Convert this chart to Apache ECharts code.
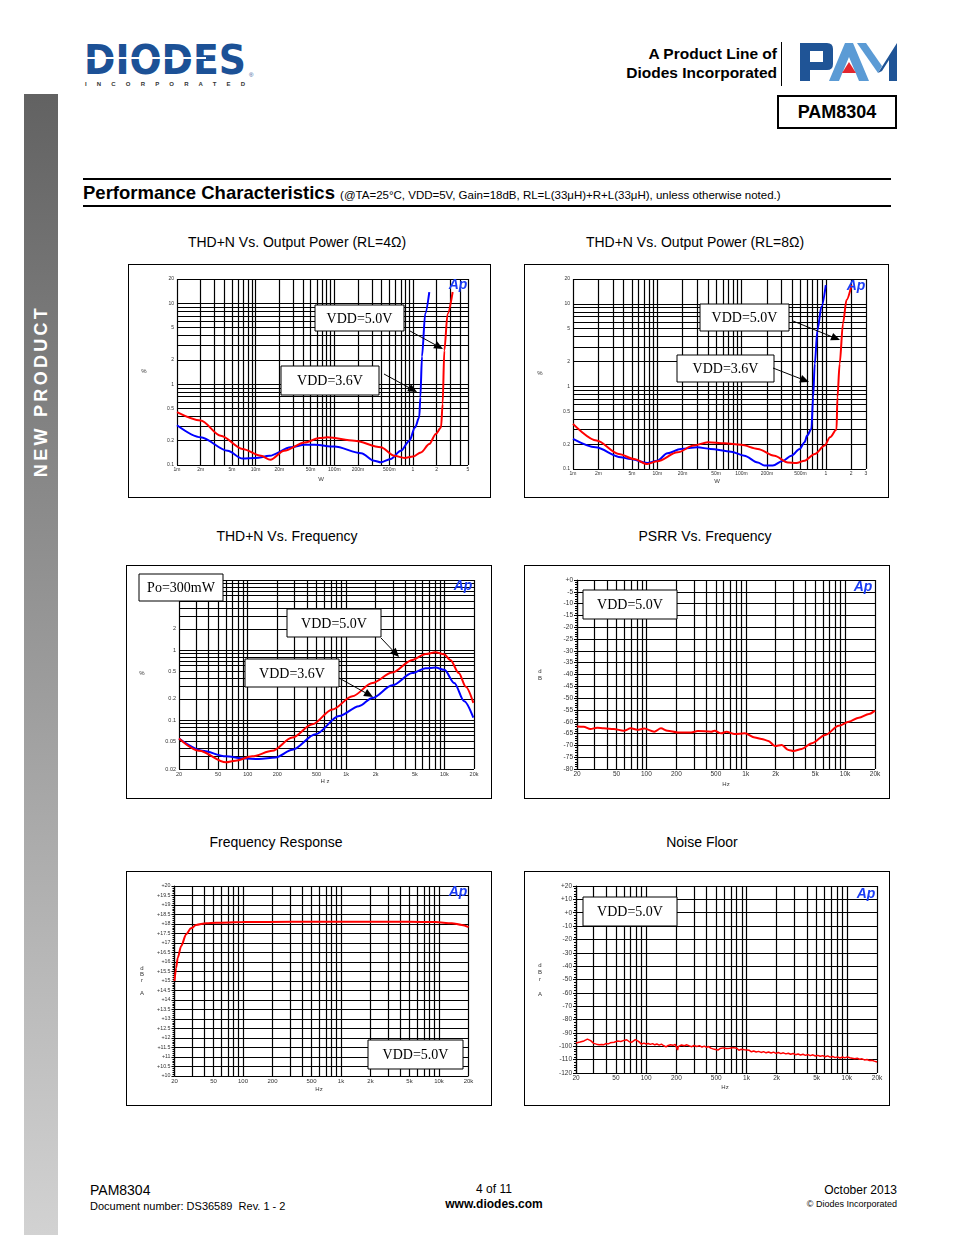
<!DOCTYPE html>
<html><head><meta charset="utf-8">
<script src="https://cdn.jsdelivr.net/npm/echarts@6.0.0/dist/echarts.min.js"></script>
<style>
body{margin:0;background:#fff;}
#page{position:relative;width:954px;height:1235px;overflow:hidden;font-family:"Liberation Sans",Arial,sans-serif;color:#000;background:#fff}
.abs{position:absolute;white-space:nowrap}
.frame{position:absolute;border:1px solid #000;box-sizing:border-box}
.chart{position:absolute}
.ctitle{position:absolute;font-size:14px;white-space:nowrap;transform:translateX(-50%);line-height:16px}
</style></head><body><div id="page">

<div class="abs" style="left:24px;top:94px;width:34px;height:1141px;background:linear-gradient(#626262,#d2d2d2)"></div>
<div class="abs" style="left:41px;top:391px;transform:translate(-50%,-50%) rotate(-90deg);color:#fff;font-weight:bold;font-size:18px;letter-spacing:3.3px">NEW PRODUCT</div>

<svg class="abs" style="left:80px;top:40px" width="180" height="50">
  <text x="4" y="33.5" font-family="DejaVu Sans" font-weight="bold" font-size="41" fill="#1c5196" textLength="162" lengthAdjust="spacingAndGlyphs">DIODES</text>
  <rect x="4" y="17" width="122" height="2" fill="#fff"/>
  <text x="169" y="37" font-family="Liberation Sans" font-size="6" fill="#1c5196">®</text>
  <text x="5" y="45.5" font-family="Liberation Sans" font-weight="bold" font-size="6" fill="#333" textLength="160" lengthAdjust="spacing">INCORPORATED</text>
</svg>

<div class="abs" style="right:177px;top:44px;font-weight:bold;font-size:15.5px;text-align:right;line-height:19px">A Product Line of<br>Diodes Incorporated</div>
<div class="abs" style="left:781px;top:42px;width:1px;height:44px;background:#000"></div>
<svg class="abs" style="left:795px;top:40px" width="106" height="46">
  <path fill="#1f5496" fill-rule="evenodd" d="M5,41 V3 H32 Q38,3 38,9 V24 Q38,30 32,30 H15 V41 Z M15,11 H28 V22 H15 Z"/>
  <polygon fill="#5b9bd5" points="34,41 50,3 58,3 74,41 64,41 54,17 44,41"/>
  <polygon fill="#e3262d" points="47,33 54,22 61,33"/>
  <polygon fill="#5b9bd5" points="62,3 71,3 87,26 83,33"/>
  <polygon fill="#1f5496" points="83,33 102,3 102,41 94,41 94,20 87,31"/>
</svg>
<div class="abs" style="left:777px;top:95px;width:120px;height:34px;border:2px solid #000;box-sizing:border-box;font-weight:bold;font-size:18px;line-height:30px;text-align:center">PAM8304</div>

<div class="abs" style="left:83px;top:178px;width:808px;height:2px;background:#000"></div>
<div class="abs" style="left:83px;top:182px;font-size:18.5px;font-weight:bold;line-height:22px">Performance Characteristics <span style="font-weight:normal;font-size:11.5px">(@TA=25°C, VDD=5V, Gain=18dB, RL=L(33μH)+R+L(33μH), unless otherwise noted.)</span></div>
<div class="abs" style="left:83px;top:205px;width:808px;height:2px;background:#000"></div>

<div class="ctitle" style="left:297px;top:234px">THD+N Vs. Output Power (RL=4Ω)</div>
<div class="ctitle" style="left:695px;top:234px">THD+N Vs. Output Power (RL=8Ω)</div>
<div class="ctitle" style="left:287px;top:528px">THD+N Vs. Frequency</div>
<div class="ctitle" style="left:705px;top:528px">PSRR Vs. Frequency</div>
<div class="ctitle" style="left:276px;top:834px">Frequency Response</div>
<div class="ctitle" style="left:702px;top:834px">Noise Floor</div>

<div class="frame" style="left:128px;top:264px;width:363px;height:234px"></div>
<div class="frame" style="left:524px;top:264px;width:365px;height:234px"></div>
<div class="frame" style="left:126px;top:565px;width:366px;height:234px"></div>
<div class="frame" style="left:524px;top:565px;width:366px;height:234px"></div>
<div class="frame" style="left:126px;top:871px;width:366px;height:235px"></div>
<div class="frame" style="left:524px;top:871px;width:366px;height:235px"></div>

<div id="c1" class="chart" style="left:128px;top:264px;width:363px;height:234px"></div>
<div id="c2" class="chart" style="left:524px;top:264px;width:365px;height:234px"></div>
<div id="c3" class="chart" style="left:126px;top:565px;width:366px;height:234px"></div>
<div id="c4" class="chart" style="left:524px;top:565px;width:366px;height:234px"></div>
<div id="c5" class="chart" style="left:126px;top:871px;width:366px;height:235px"></div>
<div id="c6" class="chart" style="left:524px;top:871px;width:366px;height:235px"></div>

<div class="abs" style="left:90px;top:1182px;font-size:14px">PAM8304</div>
<div class="abs" style="left:90px;top:1200px;font-size:11px">Document number: DS36589&nbsp; Rev. 1 - 2</div>
<div class="abs" style="left:494px;top:1182px;font-size:12px;transform:translateX(-50%)">4 of 11</div>
<div class="abs" style="left:494px;top:1197px;font-size:12px;font-weight:bold;transform:translateX(-50%)">www.diodes.com</div>
<div class="abs" style="right:57px;top:1183px;font-size:12px">October 2013</div>
<div class="abs" style="right:57px;top:1199px;font-size:9px">© Diodes Incorporated</div>

</div>
<script>
// ---------------- data ----------------
const powerTicks4 = [0.001,0.002,0.005,0.01,0.02,0.05,0.1,0.2,0.5,1,2,5];
const powerLabels4 = ['1m','2m','5m','10m','20m','50m','100m','200m','500m','1','2','5'];
const powerTicks8 = [0.001,0.002,0.005,0.01,0.02,0.05,0.1,0.2,0.5,1,2,3];
const powerLabels8 = ['1m','2m','5m','10m','20m','50m','100m','200m','500m','1','2','3'];
const thdTicks = [0.1,0.2,0.5,1,2,5,10,20];
const thdLabels = ['0.1','0.2','0.5','1','2','5','10','20'];
const freqTicks = [20,50,100,200,500,1000,2000,5000,10000,20000];
const freqLabels = ['20','50','100','200','500','1k','2k','5k','10k','20k'];
const thdFreqTicks = [0.02,0.05,0.1,0.2,0.5,1,2];
const thdFreqLabels = ['0.02','0.05','0.1','0.2','0.5','1','2'];

const thd4_vdd36 = [[0.001,0.31],[0.002,0.22],[0.0044,0.15],[0.0068,0.12],[0.01,0.122],[0.015,0.13],[0.028,0.166],[0.042,0.178],[0.056,0.178],[0.1,0.169],[0.22,0.14],[0.32,0.113],[0.39,0.108],[0.52,0.119],[0.7,0.15],[0.9,0.2],[1.06,0.29],[1.2,0.39],[1.24,0.69],[1.3,2.2],[1.43,7.5],[1.61,13.8]];
const thd4_vdd50 = [[0.001,0.45],[0.002,0.355],[0.0036,0.23],[0.0068,0.158],[0.0117,0.13],[0.0154,0.116],[0.023,0.15],[0.042,0.19],[0.065,0.216],[0.082,0.22],[0.18,0.2],[0.39,0.166],[0.58,0.13],[0.78,0.122],[1.0,0.127],[1.26,0.143],[1.61,0.182],[1.95,0.242],[2.27,0.29],[2.38,0.57],[2.5,2.6],[2.75,7.4],[3.19,13.8]];
const thd8_vdd36 = [[0.001,0.231],[0.00185,0.183],[0.0037,0.139],[0.0048,0.132],[0.0076,0.118],[0.01,0.126],[0.0132,0.155],[0.019,0.175],[0.03,0.183],[0.043,0.175],[0.075,0.162],[0.108,0.145],[0.156,0.12],[0.187,0.11],[0.235,0.11],[0.31,0.126],[0.39,0.145],[0.49,0.175],[0.56,0.211],[0.6,0.254],[0.675,0.306],[0.707,0.74],[0.74,1.88],[0.795,4.8],[0.888,9.2],[1.0,16.9]];
const thd8_vdd50 = [[0.001,0.352],[0.0019,0.221],[0.0035,0.152],[0.0053,0.132],[0.0076,0.115],[0.01,0.124],[0.0174,0.159],[0.027,0.192],[0.04,0.211],[0.063,0.205],[0.099,0.196],[0.156,0.175],[0.246,0.145],[0.355,0.12],[0.447,0.118],[0.56,0.126],[0.74,0.152],[0.97,0.192],[1.12,0.242],[1.34,0.3],[1.375,0.74],[1.46,1.88],[1.6,5.8],[1.76,11.1],[2.02,16.9]];
const thdf_vdd50 = [[20,0.0544],[32,0.0364],[60,0.0249],[75,0.0263],[111,0.0303],[178,0.0364],[284,0.0562],[454,0.0869],[725,0.1415],[1160,0.219],[1850,0.338],[2950,0.478],[4720,0.722],[6450,0.878],[8130,0.927],[9900,0.87],[11500,0.72],[14000,0.47],[16500,0.3],[19700,0.176]];
const thdf_vdd36 = [[20,0.0544],[34.5,0.0364],[60,0.0303],[88,0.0284],[130,0.0278],[192,0.0293],[284,0.0376],[490,0.0627],[850,0.114],[1350,0.158],[1850,0.207],[2950,0.313],[4720,0.468],[6450,0.55],[8130,0.562],[10000,0.521],[12600,0.338],[15900,0.186],[19700,0.108]];
const psrr_vdd50 = [[20,-62],[23.3,-62.1],[27.3,-63.1],[31.9,-62.5],[37.3,-62.8],[47,-63.1],[59,-63.8],[69.5,-62.8],[81,-63.4],[95,-62.9],[120,-64.2],[140,-62.8],[163,-63.8],[206,-64.5],[282,-64.5],[329,-63.9],[449,-64.2],[485,-63.8],[567,-64.9],[637,-64.2],[774,-65.2],[977,-64.9],[1233,-66.7],[1442,-67.3],[1686,-68.1],[1968,-70.3],[2301,-69.8],[2690,-72],[3020,-72.4],[3664,-71.5],[4631,-69.1],[6314,-65.6],[8625,-61.7],[10900,-60],[13750,-58.3],[17380,-56.7],[20000,-55.3]];
const fresp_vdd50 = [[20,15.0],[20.8,15.7],[21.6,16.23],[23.4,16.84],[26.3,17.46],[29.5,17.77],[33.2,17.95],[42,18.04],[53,18.07],[99,18.1],[317,18.12],[1500,18.12],[4870,18.12],[9160,18.1],[13500,18.04],[17100,17.95],[20000,17.84]];
const noise_vdd50 = [[20,-97.5],[21,-97.2],[22,-96.8],[23,-96.9],[24,-96.0],[25,-95.0],[26,-94.6],[27,-94.9],[28,-95.8],[29,-96.6],[30,-97.8],[32,-98.4],[34,-98.9],[36,-98.6],[38,-98.8],[40,-97.9],[42,-98.2],[44,-97.4],[46,-97.6],[48,-97.0],[50,-97.3],[52,-96.1],[54,-95.8],[56,-96.4],[58,-95.3],[60,-95.6],[62,-94.6],[64,-95.1],[66,-95.9],[68,-96.6],[70,-96.2],[72,-96.9],[75,-95.6],[78,-95.0],[81,-94.7],[84,-96.3],[87,-97.6],[90,-98.4],[95,-97.6],[100,-98.3],[105,-97.9],[110,-98.6],[116,-98.0],[122,-98.9],[128,-98.3],[135,-99.1],[142,-98.4],[150,-99.6],[158,-100.5],[166,-99.4],[175,-98.9],[185,-99.3],[195,-98.6],[203,-98.9],[206,-102.8],[209,-100.2],[215,-99.6],[225,-99.0],[240,-99.6],[255,-98.9],[270,-99.7],[285,-100.3],[300,-99.4],[320,-100.1],[340,-99.5],[360,-100.6],[380,-99.9],[400,-100.8],[420,-100.2],[440,-101.4],[460,-100.7],[480,-102.3],[500,-101.5],[520,-102.8],[545,-101.7],[570,-103.0],[590,-101.2],[610,-102.6],[630,-101.6],[655,-102.9],[680,-101.4],[710,-102.4],[740,-101.0],[770,-102.2],[800,-101.5],[840,-103.0],[880,-102.3],[920,-103.4],[960,-102.6],[1000,-103.6],[1060,-102.9],[1120,-104.1],[1180,-103.5],[1250,-104.3],[1320,-103.8],[1400,-104.6],[1480,-104.0],[1570,-104.9],[1660,-104.3],[1760,-105.0],[1860,-104.4],[1970,-105.3],[2080,-104.6],[2200,-105.5],[2330,-104.9],[2470,-105.7],[2610,-105.2],[2760,-106.0],[2920,-105.4],[3090,-106.3],[3270,-105.8],[3460,-106.5],[3660,-106.0],[3870,-106.8],[4100,-106.2],[4340,-107.0],[4590,-106.4],[4860,-107.3],[5140,-106.8],[5440,-107.5],[5760,-107.0],[6090,-107.8],[6450,-107.2],[6820,-108.1],[7220,-107.6],[7640,-108.5],[8080,-107.9],[8550,-108.8],[9050,-108.0],[9580,-108.7],[10100,-107.9],[10700,-108.6],[11300,-108.9],[12000,-109.3],[12700,-109.0],[13400,-109.7],[14200,-109.4],[15000,-110.2],[15900,-109.9],[16800,-110.6],[17800,-110.4],[18800,-111.1],[19500,-110.9],[20000,-111.8]];

// ---------------- helpers ----------------
const RED = '#ff0000', BLUE = '#0000ff';
const FONT = '"Liberation Sans", Arial, sans-serif';

function logGridValues(min, max) {
  const vals = [min];
  for (let e = Math.floor(Math.log10(min)) - 1; e <= Math.ceil(Math.log10(max)); e++) {
    for (let k = 1; k <= 9; k++) {
      const v = parseFloat((k * Math.pow(10, e)).toPrecision(6));
      if (v > min * 1.0001 && v < max * 0.9999) vals.push(v);
    }
  }
  vals.push(max);
  return vals;
}
function lineItems(key, spec, dist) {
  return logGridValues(spec.min, spec.max).map(function (v) {
    const item = {}; item[key] = v;
    const i = spec.ticks.findIndex(function (t) { return Math.abs(t - v) / v < 1e-6; });
    if (i >= 0) item.label = { show: true, position: 'start', formatter: spec.labels[i], fontSize: spec.fontSize, color: '#333', fontFamily: FONT, distance: dist };
    return item;
  });
}
function box(x, y, w, h, t) {
  return { type: 'group', z: 100, children: [
    { type: 'rect', z: 100, shape: { x: x, y: y, width: w, height: h }, style: { fill: '#fff', stroke: '#000', lineWidth: 1 } },
    { type: 'text', z: 101, style: { x: x + w / 2, y: y + h / 2 + 1, text: t, font: '14px "Liberation Serif", "Times New Roman", serif', fill: '#000', align: 'center', verticalAlign: 'middle', textAlign: 'center', textVerticalAlign: 'middle' } }
  ] };
}
function arrow(x1, y1, x2, y2) {
  const dx = x2 - x1, dy = y2 - y1, L = Math.hypot(dx, dy), ux = dx / L, uy = dy / L;
  const hl = 9, hw = 4, bx = x2 - ux * hl, by = y2 - uy * hl;
  return { type: 'group', z: 100, children: [
    { type: 'line', z: 100, shape: { x1: x1, y1: y1, x2: bx, y2: by }, style: { stroke: '#000', lineWidth: 1 } },
    { type: 'polygon', z: 100, shape: { points: [[x2, y2], [bx - uy * hw, by + ux * hw], [bx + uy * hw, by - ux * hw]] }, style: { fill: '#000' } }
  ] };
}
function txt(x, y, t, size) {
  return { type: 'text', z: 100, style: { x: x, y: y, text: t, font: (size || 6) + 'px ' + FONT, fill: '#333', align: 'center', verticalAlign: 'middle', textAlign: 'center', textVerticalAlign: 'middle' } };
}
function ap(x, y) {
  return { type: 'text', z: 100, style: { x: x, y: y, text: 'Ap', font: 'italic bold 14px ' + FONT, fill: '#1a3cf5', align: 'center', verticalAlign: 'middle', textAlign: 'center', textVerticalAlign: 'middle' } };
}
function hiddenLog(min, max) {
  return { type: 'log', logBase: 10, min: min, max: max, axisLine: { show: false }, axisTick: { show: false }, axisLabel: { show: false }, splitLine: { show: false }, minorTick: { show: false }, minorSplitLine: { show: false } };
}

function render(c) {
  const chart = echarts.init(document.getElementById(c.el));
  let yAxis;
  const lines = lineItems('xAxis', c.x, 2);
  if (c.y.log) {
    yAxis = hiddenLog(c.y.min, c.y.max);
    lines.push.apply(lines, lineItems('yAxis', c.y, 3));
  } else {
    yAxis = { type: 'value', min: c.y.min, max: c.y.max, interval: c.y.interval,
      axisLine: { show: true, lineStyle: { color: '#000', width: 1.2 } },
      axisTick: { show: true, length: 3, lineStyle: { color: '#000', width: 1 } },
      minorTick: { show: true, splitNumber: 5, length: 2, lineStyle: { color: '#000', width: 1 } },
      splitLine: { show: true, lineStyle: { color: '#000', width: 1.2, type: 'solid' } },
      minorSplitLine: { show: false },
      axisLabel: { show: true, fontSize: c.y.fontSize, color: '#333', fontFamily: FONT, margin: 4,
        formatter: function (v) { return (v >= 0 ? '+' : '') + v; } } };
  }
  const series = [{ type: 'line', data: [], silent: true,
    markLine: { silent: true, z: 1, symbol: ['none', 'none'], animation: false, precision: 6,
      label: { show: false }, lineStyle: { color: '#000', width: 1.2, type: 'solid' },
      emphasis: { disabled: true }, data: lines } }];
  c.series.forEach(function (s) {
    series.push({ type: 'line', data: s.data, z: 3, silent: true, symbol: 'none', showSymbol: false,
      smooth: s.smooth, smoothMonotone: 'x', clip: true,
      lineStyle: { color: s.color, width: s.width || 2 }, itemStyle: { color: s.color } });
  });
  chart.setOption({
    animation: false,
    backgroundColor: 'transparent',
    textStyle: { fontFamily: FONT },
    grid: Object.assign({ containLabel: false, outerBoundsMode: 'none' }, c.grid),
    xAxis: hiddenLog(c.x.min, c.x.max),
    yAxis: yAxis,
    series: series,
    graphic: { elements: c.graphics }
  });
}

const configs = [
  { el: 'c1', grid: { left: 49, top: 15, width: 291, height: 186 },
    x: { min: 0.001, max: 5, ticks: powerTicks4, labels: powerLabels4, fontSize: 5 },
    y: { log: true, min: 0.1, max: 20, ticks: thdTicks, labels: thdLabels, fontSize: 5 },
    series: [{ data: thd4_vdd36, color: BLUE, smooth: 0.3 }, { data: thd4_vdd50, color: RED, smooth: 0.3 }],
    graphics: [box(187, 41, 89, 26, 'VDD=5.0V'), arrow(282, 67, 315, 85), box(153, 102, 98, 29, 'VDD=3.6V'), arrow(256, 110, 289, 128), ap(330, 21), txt(16, 107, '%'), txt(193, 215, 'W')] },
  { el: 'c2', grid: { left: 49, top: 15, width: 293, height: 190 },
    x: { min: 0.001, max: 3, ticks: powerTicks8, labels: powerLabels8, fontSize: 5 },
    y: { log: true, min: 0.1, max: 20, ticks: thdTicks, labels: thdLabels, fontSize: 5 },
    series: [{ data: thd8_vdd36, color: BLUE, smooth: 0.3 }, { data: thd8_vdd50, color: RED, smooth: 0.3 }],
    graphics: [box(176, 40, 89, 27, 'VDD=5.0V'), arrow(269, 57, 316, 76), box(153, 91, 97, 27, 'VDD=3.6V'), arrow(249, 104, 285, 118), ap(332, 22), txt(16, 109, '%'), txt(193, 217, 'W')] },
  { el: 'c3', grid: { left: 53, top: 15, width: 295, height: 189 },
    x: { min: 20, max: 20000, ticks: freqTicks, labels: freqLabels, fontSize: 5.5 },
    y: { log: true, min: 0.02, max: 10, ticks: thdFreqTicks, labels: thdFreqLabels, fontSize: 5.5 },
    series: [{ data: thdf_vdd36, color: BLUE, smooth: 0.3 }, { data: thdf_vdd50, color: RED, smooth: 0.3 }],
    graphics: [box(13, 9, 84, 27, 'Po=300mW'), box(161, 44, 94, 28, 'VDD=5.0V'), arrow(255, 73, 273, 92), box(119, 94, 94, 28, 'VDD=3.6V'), arrow(213, 113, 247, 132), ap(337, 21), txt(16, 108, '%'), txt(199, 216, 'H z')] },
  { el: 'c4', grid: { left: 53, top: 15, width: 298, height: 189 },
    x: { min: 20, max: 20000, ticks: freqTicks, labels: freqLabels, fontSize: 6.5 },
    y: { log: false, min: -80, max: 0, interval: 5, fontSize: 6.5 },
    series: [{ data: psrr_vdd50, color: RED, smooth: 0.3 }],
    graphics: [box(59, 25, 94, 29, 'VDD=5.0V'), ap(339, 22), txt(16, 106, 'd'), txt(16, 113, 'B'), txt(202, 219, 'Hz')] },
  { el: 'c5', grid: { left: 48.5, top: 15, width: 294, height: 190 },
    x: { min: 20, max: 20000, ticks: freqTicks, labels: freqLabels, fontSize: 6 },
    y: { log: false, min: 10, max: 20, interval: 0.5, fontSize: 5.3 },
    series: [{ data: fresp_vdd50, color: RED, smooth: 0.3 }],
    graphics: [box(242, 169, 95, 29, 'VDD=5.0V'), ap(332, 21), txt(16, 97, 'd'), txt(16, 103, 'B'), txt(16, 109, 'r'), txt(16, 122, 'A'), txt(193, 218, 'Hz')] },
  { el: 'c6', grid: { left: 52, top: 15, width: 301, height: 187 },
    x: { min: 20, max: 20000, ticks: freqTicks, labels: freqLabels, fontSize: 6.5 },
    y: { log: false, min: -120, max: 20, interval: 10, fontSize: 6.5 },
    series: [{ data: noise_vdd50, color: RED, smooth: false, width: 1.5 }],
    graphics: [box(59, 26, 94, 29, 'VDD=5.0V'), ap(342, 23), txt(16, 94, 'd'), txt(16, 101, 'B'), txt(16, 108, 'r'), txt(16, 123, 'A'), txt(201, 216, 'Hz')] }
];
configs.forEach(render);
</script>
</body></html>
